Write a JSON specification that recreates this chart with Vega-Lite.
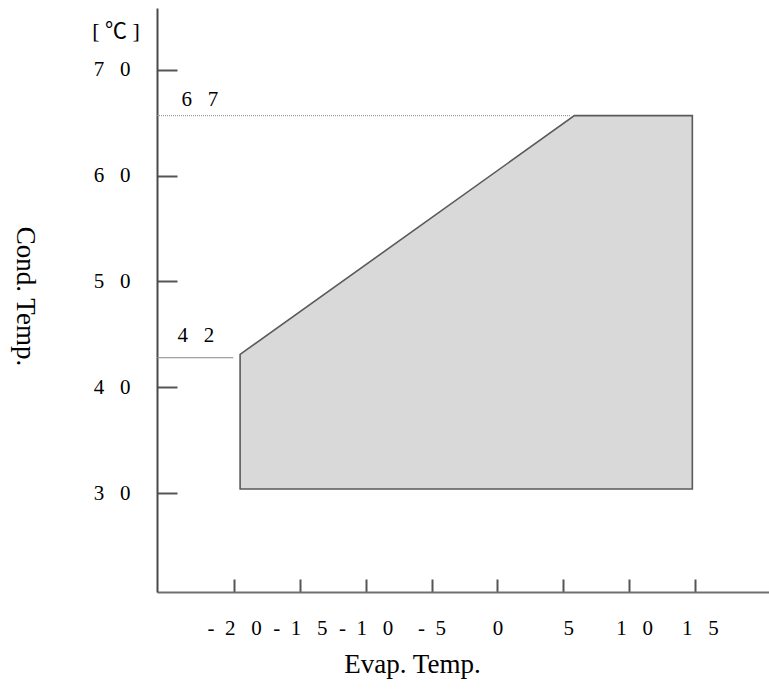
{
  "$schema": "https://vega.github.io/schema/vega-lite/v6.json",
  "width": 612,
  "height": 584,
  "autosize": {"type": "none"},
  "padding": {"left": 157, "top": 8, "right": 0, "bottom": 97},
  "background": "white",
  "config": {"view": {"stroke": null}, "font": "Liberation Serif"},
  "datasets": {
    "envelope": [
      {"evap": -19.54, "cond_low": 30.38, "cond_high": 43.1},
      {"evap": 5.84, "cond_low": 30.38, "cond_high": 65.68},
      {"evap": 14.8, "cond_low": 30.38, "cond_high": 65.68}
    ],
    "dotted": [{"evap_start": -25.85, "evap_end": 5.51, "cond": 65.68}],
    "solid": [{"evap_start": -25.85, "evap_end": -20.05, "cond": 42.79}],
    "notes": [
      {"evap": -22.6, "cond": 67.2, "text": "6\u2002 7"},
      {"evap": -22.9, "cond": 44.8, "text": "4\u2002 2"}
    ],
    "unit": [
      {"evap": -28.96, "cond": 73.7, "text": "[ ℃ ]"}
    ]
  },
  "layer": [
    {
      "data": {"name": "envelope"},
      "mark": {"type": "area", "fill": "#d9d9d9", "stroke": "#5a5a5a", "strokeWidth": 1.6, "opacity": 1},
      "encoding": {
        "x": {
          "field": "evap", "type": "quantitative",
          "scale": {"domain": [-25.85, 20.62], "nice": false, "zero": false},
          "axis": {
            "orient": "bottom",
            "values": [-20, -15, -10, -5, 0, 5, 10, 15],
            "grid": false,
            "tickSize": -13,
            "tickColor": "#555555",
            "tickWidth": 2,
            "domainColor": "#707070",
            "domainWidth": 2,
            "labelFont": "Liberation Serif",
            "labelFontSize": 21,
            "labelColor": "#000000",
            "labelPadding": 49,
            "labelBaseline": "middle",
            "labelOffset": {"condition": {"test": "datum.value > 0", "value": 5}, "value": 0},
            "labelExpr": "(datum.value < 0 ? '-\u2002' : '') + join(split(toString(abs(datum.value)), ''), '\u2002 ')",
            "title": "Evap. Temp.",
            "titleFont": "Liberation Serif",
            "titleFontSize": 27,
            "titleFontWeight": "normal",
            "titleColor": "#000000",
            "titleX": 255,
            "titleY": 72,
            "titleAlign": "center",
            "titleBaseline": "middle"
          }
        },
        "y": {
          "field": "cond_high", "type": "quantitative",
          "scale": {"domain": [20.64, 75.86], "nice": false, "zero": false},
          "axis": {
            "orient": "left",
            "values": [30, 40, 50, 60, 70],
            "grid": false,
            "tickSize": -20,
            "tickColor": "#555555",
            "tickWidth": 2,
            "domainColor": "#4a4a4a",
            "domainWidth": 2,
            "labelFont": "Liberation Serif",
            "labelFontSize": 21,
            "labelColor": "#000000",
            "labelPadding": 47,
            "labelBaseline": "middle",
            "labelExpr": "join(split(toString(datum.value), ''), '\u2002 ')",
            "title": "Cond. Temp.",
            "titleFont": "Liberation Serif",
            "titleFontSize": 27,
            "titleFontWeight": "normal",
            "titleColor": "#000000",
            "titleAngle": 90,
            "titleX": -133,
            "titleY": 288,
            "titleAlign": "center",
            "titleBaseline": "middle"
          }
        },
        "y2": {"field": "cond_low"}
      }
    },
    {
      "data": {"name": "dotted"},
      "mark": {"type": "rule", "color": "#888888", "strokeWidth": 1, "strokeDash": [1, 1]},
      "encoding": {
        "x": {"field": "evap_start", "type": "quantitative"},
        "x2": {"field": "evap_end"},
        "y": {"field": "cond", "type": "quantitative"}
      }
    },
    {
      "data": {"name": "solid"},
      "mark": {"type": "rule", "color": "#8a8a8a", "strokeWidth": 1},
      "encoding": {
        "x": {"field": "evap_start", "type": "quantitative"},
        "x2": {"field": "evap_end"},
        "y": {"field": "cond", "type": "quantitative"}
      }
    },
    {
      "data": {"name": "notes"},
      "mark": {"type": "text", "font": "Liberation Serif", "fontSize": 21, "color": "#000000", "align": "center", "baseline": "middle"},
      "encoding": {
        "x": {"field": "evap", "type": "quantitative"},
        "y": {"field": "cond", "type": "quantitative"},
        "text": {"field": "text"}
      }
    },
    {
      "data": {"name": "unit"},
      "mark": {"type": "text", "font": "Liberation Serif, Noto Sans CJK JP", "fontSize": 22, "color": "#000000", "align": "center", "baseline": "middle"},
      "encoding": {
        "x": {"field": "evap", "type": "quantitative"},
        "y": {"field": "cond", "type": "quantitative"},
        "text": {"field": "text"}
      }
    }
  ]
}
